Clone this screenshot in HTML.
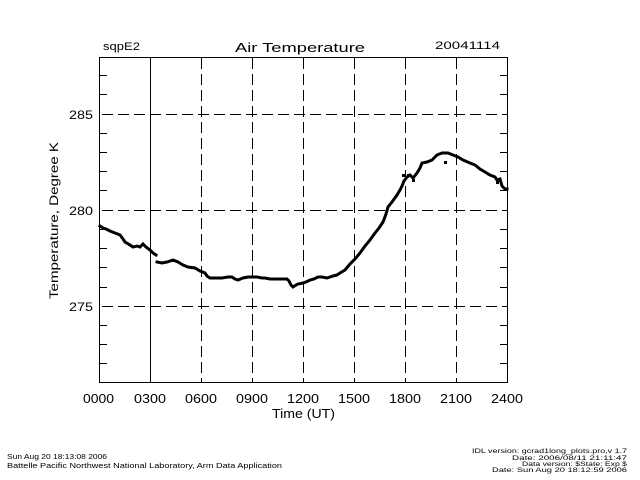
<!DOCTYPE html>
<html>
<head>
<meta charset="utf-8">
<style>
html,body{margin:0;padding:0;background:#fff;}
svg{display:block;}
text{font-family:"Liberation Sans","DejaVu Sans",sans-serif;fill:#000;}
</style>
</head>
<body>
<svg width="640" height="480" viewBox="0 0 640 480" xmlns="http://www.w3.org/2000/svg">
<rect x="0" y="0" width="640" height="480" fill="#fff"/>
<!-- grid -->
<g stroke="#000" stroke-width="1" fill="none">
  <line x1="150.5" y1="57" x2="150.5" y2="383"/>
  <g stroke-dasharray="11,5">
    <line x1="201.5" y1="58" x2="201.5" y2="383"/>
    <line x1="252.5" y1="58" x2="252.5" y2="383"/>
    <line x1="303.5" y1="58" x2="303.5" y2="383"/>
    <line x1="354.5" y1="58" x2="354.5" y2="383"/>
    <line x1="405.5" y1="58" x2="405.5" y2="383"/>
    <line x1="456.5" y1="58" x2="456.5" y2="383"/>
    <line x1="102" y1="114.5" x2="507" y2="114.5"/>
    <line x1="102" y1="210.5" x2="507" y2="210.5"/>
    <line x1="102" y1="306.5" x2="507" y2="306.5"/>
  </g>
  <rect x="99.5" y="57.5" width="408" height="325"/>
  <!-- minor ticks left -->
  <path d="M99 75.5h8M99 94.5h8M99 133.5h8M99 152.5h8M99 171.5h8M99 190.5h8M99 229.5h8M99 248.5h8M99 267.5h8M99 287.5h8M99 325.5h8M99 344.5h8M99 363.5h8"/>
  <path d="M500 75.5h8M500 94.5h8M500 133.5h8M500 152.5h8M500 171.5h8M500 190.5h8M500 229.5h8M500 248.5h8M500 267.5h8M500 287.5h8M500 325.5h8M500 344.5h8M500 363.5h8"/>
</g>
<!-- data -->
<g stroke="#000" stroke-width="3" fill="none" stroke-linejoin="miter" stroke-linecap="square">
<path d="M100 226L103 228L106 229L110 231L115 233L120 235L123 239L125 242L130 245L133 247L137 246L140 247L143 244L146 247L150 250L153 253L156 255"/>
<path d="M157 262L162 263L167 262L170 261L173 260L178 262L183 265L188 267L195 268L200 271L205 273L207 276L210 278L215 278L222 278L228 277L232 277L235 279L238 280L243 278L248 277L253 277L257 277L262 278L265 278L270 279L275 279L281 279L287 279L289 281L291 285L293 287L296 285L298 284L303 283L306 282L310 280L314 279L318 277L322 277L327 278L330 277L333 276L337 275L340 273L345 270L350 264L355 259L360 253L365 246L370 240L375 233L379 228L383 222L386 214L388 207L392 202L397 195L400 190L402 186L404 181L407 177L410 175L413 178L417 173L420 168L422 163L427 162L432 160L437 155L442 153L448 153L453 155L458 157L463 160L470 163L475 165L480 169L485 172L490 175L495 177L497 180L500 179L502 186L505 189L507 189"/>
</g>
<g fill="#000">
  <rect x="402" y="174" width="3" height="3"/>
  <rect x="412" y="179" width="3" height="3"/>
  <rect x="444" y="161" width="3" height="3"/>
  <rect x="496" y="181" width="3" height="3"/>
  <rect x="407" y="174" width="2" height="2"/>
</g>
<!-- titles -->
<text x="103" y="50" font-size="11" textLength="37" lengthAdjust="spacingAndGlyphs">sqpE2</text>
<text x="235" y="52" font-size="13" textLength="130" lengthAdjust="spacingAndGlyphs">Air Temperature</text>
<text x="435" y="49" font-size="11" textLength="65" lengthAdjust="spacingAndGlyphs">20041114</text>
<!-- y labels -->
<text x="69" y="119" font-size="12" textLength="24" lengthAdjust="spacingAndGlyphs">285</text>
<text x="69" y="215" font-size="12" textLength="24" lengthAdjust="spacingAndGlyphs">280</text>
<text x="69" y="311" font-size="12" textLength="24" lengthAdjust="spacingAndGlyphs">275</text>
<text transform="translate(58,299) rotate(-90)" x="0" y="0" font-size="12" textLength="157" lengthAdjust="spacingAndGlyphs">Temperature, Degree K</text>
<!-- x labels -->
<g font-size="13">
<text x="83" y="403" textLength="31" lengthAdjust="spacingAndGlyphs">0000</text>
<text x="134" y="403" textLength="32" lengthAdjust="spacingAndGlyphs">0300</text>
<text x="185" y="403" textLength="32" lengthAdjust="spacingAndGlyphs">0600</text>
<text x="236" y="403" textLength="32" lengthAdjust="spacingAndGlyphs">0900</text>
<text x="287" y="403" textLength="32" lengthAdjust="spacingAndGlyphs">1200</text>
<text x="338" y="403" textLength="32" lengthAdjust="spacingAndGlyphs">1500</text>
<text x="389" y="403" textLength="32" lengthAdjust="spacingAndGlyphs">1800</text>
<text x="440" y="403" textLength="32" lengthAdjust="spacingAndGlyphs">2100</text>
<text x="491" y="403" textLength="32" lengthAdjust="spacingAndGlyphs">2400</text>
</g>
<text x="272" y="418" font-size="13" textLength="63" lengthAdjust="spacingAndGlyphs">Time (UT)</text>
<!-- footer -->
<text x="7" y="459" font-size="7.5" textLength="100" lengthAdjust="spacingAndGlyphs">Sun Aug 20 18:13:08 2006</text>
<text x="7" y="468" font-size="7.5" textLength="275" lengthAdjust="spacingAndGlyphs">Battelle Pacific Northwest National Laboratory, Arm Data Application</text>
<g font-size="6.5">
<text x="472" y="453" textLength="155" lengthAdjust="spacingAndGlyphs">IDL version: gcrad1long_plots.pro,v 1.7</text>
<text x="512" y="460" textLength="115" lengthAdjust="spacingAndGlyphs">Date: 2006/08/11 21:11:47</text>
<text x="522" y="466" textLength="105" lengthAdjust="spacingAndGlyphs">Data version: $State: Exp $</text>
<text x="492" y="472" textLength="135" lengthAdjust="spacingAndGlyphs">Date: Sun Aug 20 18:12:59 2006</text>
</g>
</svg>
</body>
</html>
